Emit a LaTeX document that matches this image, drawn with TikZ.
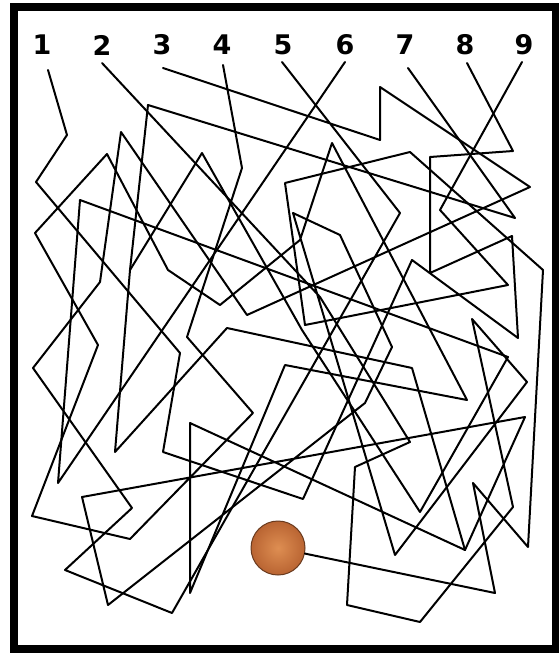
\documentclass[tikz,border=0pt]{standalone}
\usepackage{fontspec}
\newfontfamily\numfont{DejaVu Sans}
\definecolor{ballin}{RGB}{222,142,82}
\definecolor{ballout}{RGB}{185,100,50}
\definecolor{ballrim}{RGB}{105,58,30}
\begin{document}
\begin{tikzpicture}[x=1pt,y=-1pt,
  tangle/.style={line width=2pt,line join=round,line cap=round,black},
  num/.style={font=\numfont\bfseries\fontsize{27}{27}\selectfont,inner sep=0pt,anchor=center}]
\useasboundingbox (0,0) rectangle (559,653);
\fill[white] (0,0) rectangle (559,653);
\draw[line width=8pt] (14,6.5) rectangle (555.5,649);
% numbers
\node[num] (n1) at (42,45) {1};
\node[num] (n2) at (102,45) {2};
\node[num] (n3) at (162,45) {3};
\node[num] (n4) at (222,45) {4};
\node[num] (n5) at (283,45) {5};
\node[num] (n6) at (345,45) {6};
\node[num] (n7) at (405,45) {7};
\node[num] (n8) at (465,45) {8};
\node[num] (n9) at (524,45) {9};
% ball
\node[circle,minimum size=54pt,inner sep=0pt,inner color=ballin,outer color=ballout,draw=ballrim,line width=1pt] (ball) at (278,548) {};
% tangle lines
\draw[tangle] (48,70) -- (67,135) -- (36,182) -- (180,353) -- (163,452) -- (303,499) -- (412,260) -- (518,338) -- (512,236) -- (430,273) -- (430,157) -- (513,151) -- (467,63);
\draw[tangle] (163,68) -- (380,140) -- (380,87) -- (530,187) -- (247,315) -- (121,132) -- (100,282) -- (33,368) -- (132,508) -- (65,570) -- (172,613) -- (400,213) -- (282,62);
\draw[tangle] (223,65) -- (242,168) -- (187,337) -- (253,413) -- (130,539) -- (32,516) -- (98,345) -- (35,233) -- (107,154) -- (168,270) -- (220,305) -- (300,240) -- (332,143) -- (467,400) -- (285,365) -- (190,593) -- (190,423) -- (465,550) -- (525,417) -- (82,497) -- (108,605) -- (365,403) -- (392,347) -- (340,235) -- (293,213) -- (395,555) -- (527,382) -- (472,319) -- (513,507) -- (420,622) -- (347,605) -- (355,467) -- (410,442) -- (320,297) -- (102,63);
\draw[tangle] (345,62) -- (58,483) -- (80,200) -- (508,357) -- (420,512) -- (302,330) -- (202,153) -- (130,270);
\draw[tangle] (408,68) -- (515,218) -- (148,105) -- (130,270) -- (115,452) -- (227,328) -- (412,368) -- (465,550);
\draw[tangle] (522,62) -- (440,210) -- (508,285) -- (305,325) -- (285,183) -- (410,152) -- (543,270) -- (528,547) -- (473,483) -- (495,593) -- (ball);
\end{tikzpicture}
\end{document}
